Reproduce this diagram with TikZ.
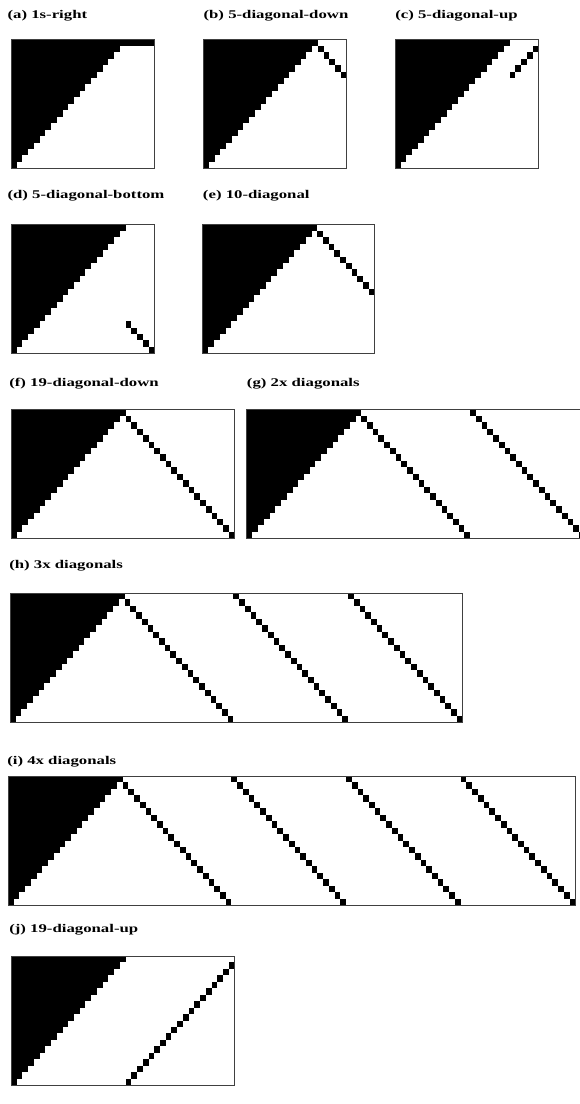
\documentclass[tikz,border=0pt]{standalone}
\usepackage{fontspec}
\setmainfont{Liberation Serif}
\usetikzlibrary{positioning}

\tikzset{
  panel label/.style={anchor=base west, inner sep=0pt, font=\fontsize{11.8}{12}\selectfont\bfseries, xscale=1.42},
  frame/.style={draw=black!75, line width=0.9pt},
  grid cells/.style={x=5.73pt, y=-6.45pt},
}
% black staircase of the first 20 columns
\newcommand{\blackstairs}{\foreach \r in {0,...,19} {\fill (0,\r) rectangle ({20-\r},\r+1);}}
% one black cell at column #1, row #2
\newcommand{\dcell}[2]{\fill (#1,#2) rectangle ++(1,1);}

\begin{document}
\begin{tikzpicture}[x=1pt, y=-1pt]
    \useasboundingbox (0,0) rectangle (579,1104);

    % ── ROW 1 ─────────────────────────────────────────────────────────
    \node[panel label] (lbl-a) at (7.3,18.3) {(a) 1s-right};
    \begin{scope}[shift={(11pt,-39.3pt)}, grid cells]
        \blackstairs
        \fill (20,0) rectangle (25,1);
        \draw[frame] (0,0) rectangle (25,20);
    \end{scope}

    \node[panel label] (lbl-b) at (203.3,18.3) {(b) 5-diagonal-down};
    \begin{scope}[shift={(203.3pt,-39.3pt)}, grid cells]
        \blackstairs
        \foreach \r in {1,...,5} {\dcell{19+\r}{\r}}
        \draw[frame] (0,0) rectangle (25,20);
    \end{scope}

    \node[panel label] (lbl-c) at (395,18.3) {(c) 5-diagonal-up};
    \begin{scope}[shift={(395pt,-39.3pt)}, grid cells]
        \blackstairs
        \foreach \r in {1,...,5} {\dcell{25-\r}{\r}}
        \draw[frame] (0,0) rectangle (25,20);
    \end{scope}

    % ── ROW 2 ─────────────────────────────────────────────────────────
    \node[panel label] (lbl-d) at (7.3,198.3) {(d) 5-diagonal-bottom};
    \begin{scope}[shift={(11pt,-224.3pt)}, grid cells]
        \blackstairs
        \foreach \r in {15,...,19} {\dcell{\r+5}{\r}}
        \draw[frame] (0,0) rectangle (25,20);
    \end{scope}

    \node[panel label] (lbl-e) at (202.7,198.3) {(e) 10-diagonal};
    \begin{scope}[shift={(202.7pt,-224.3pt)}, grid cells]
        \blackstairs
        \foreach \r in {1,...,10} {\dcell{19+\r}{\r}}
        \draw[frame] (0,0) rectangle (30,20);
    \end{scope}

    % ── ROW 3 ─────────────────────────────────────────────────────────
    \node[panel label] (lbl-f) at (9,386.7) {(f) 19-diagonal-down};
    \begin{scope}[shift={(11pt,-409.3pt)}, grid cells]
        \blackstairs
        \foreach \r in {1,...,19} {\dcell{19+\r}{\r}}
        \draw[frame] (0,0) rectangle (39,20);
    \end{scope}

    \node[panel label] (lbl-g) at (246.7,386.7) {(g) 2x diagonals};
    \begin{scope}[shift={(246.7pt,-409.3pt)}, grid cells]
        \blackstairs
        \foreach \r in {1,...,19} {\dcell{19+\r}{\r}}
        \foreach \r in {0,...,19} {\dcell{39+\r}{\r}}
        \draw[frame] (0,0) rectangle (59,20);
    \end{scope}

    % ── WIDE PANELS ───────────────────────────────────────────────────
    \node[panel label] (lbl-h) at (9,568) {(h) 3x diagonals};
    \begin{scope}[shift={(10pt,-593pt)}, grid cells]
        \blackstairs
        \foreach \r in {1,...,19} {\dcell{19+\r}{\r}}
        \foreach \k in {39,59} {
            \foreach \r in {0,...,19} {\dcell{\k+\r}{\r}}
        }
        \draw[frame] (0,0) rectangle (79,20);
    \end{scope}

    \node[panel label] (lbl-i) at (7,764) {(i) 4x diagonals};
    \begin{scope}[shift={(8pt,-776pt)}, grid cells]
        \blackstairs
        \foreach \r in {1,...,19} {\dcell{19+\r}{\r}}
        \foreach \k in {39,59,79} {
            \foreach \r in {0,...,19} {\dcell{\k+\r}{\r}}
        }
        \draw[frame] (0,0) rectangle (99,20);
    \end{scope}

    \node[panel label] (lbl-j) at (9,932) {(j) 19-diagonal-up};
    \begin{scope}[shift={(11pt,-956pt)}, grid cells]
        \blackstairs
        \foreach \r in {1,...,19} {\dcell{39-\r}{\r}}
        \draw[frame] (0,0) rectangle (39,20);
    \end{scope}
\end{tikzpicture}
\end{document}
